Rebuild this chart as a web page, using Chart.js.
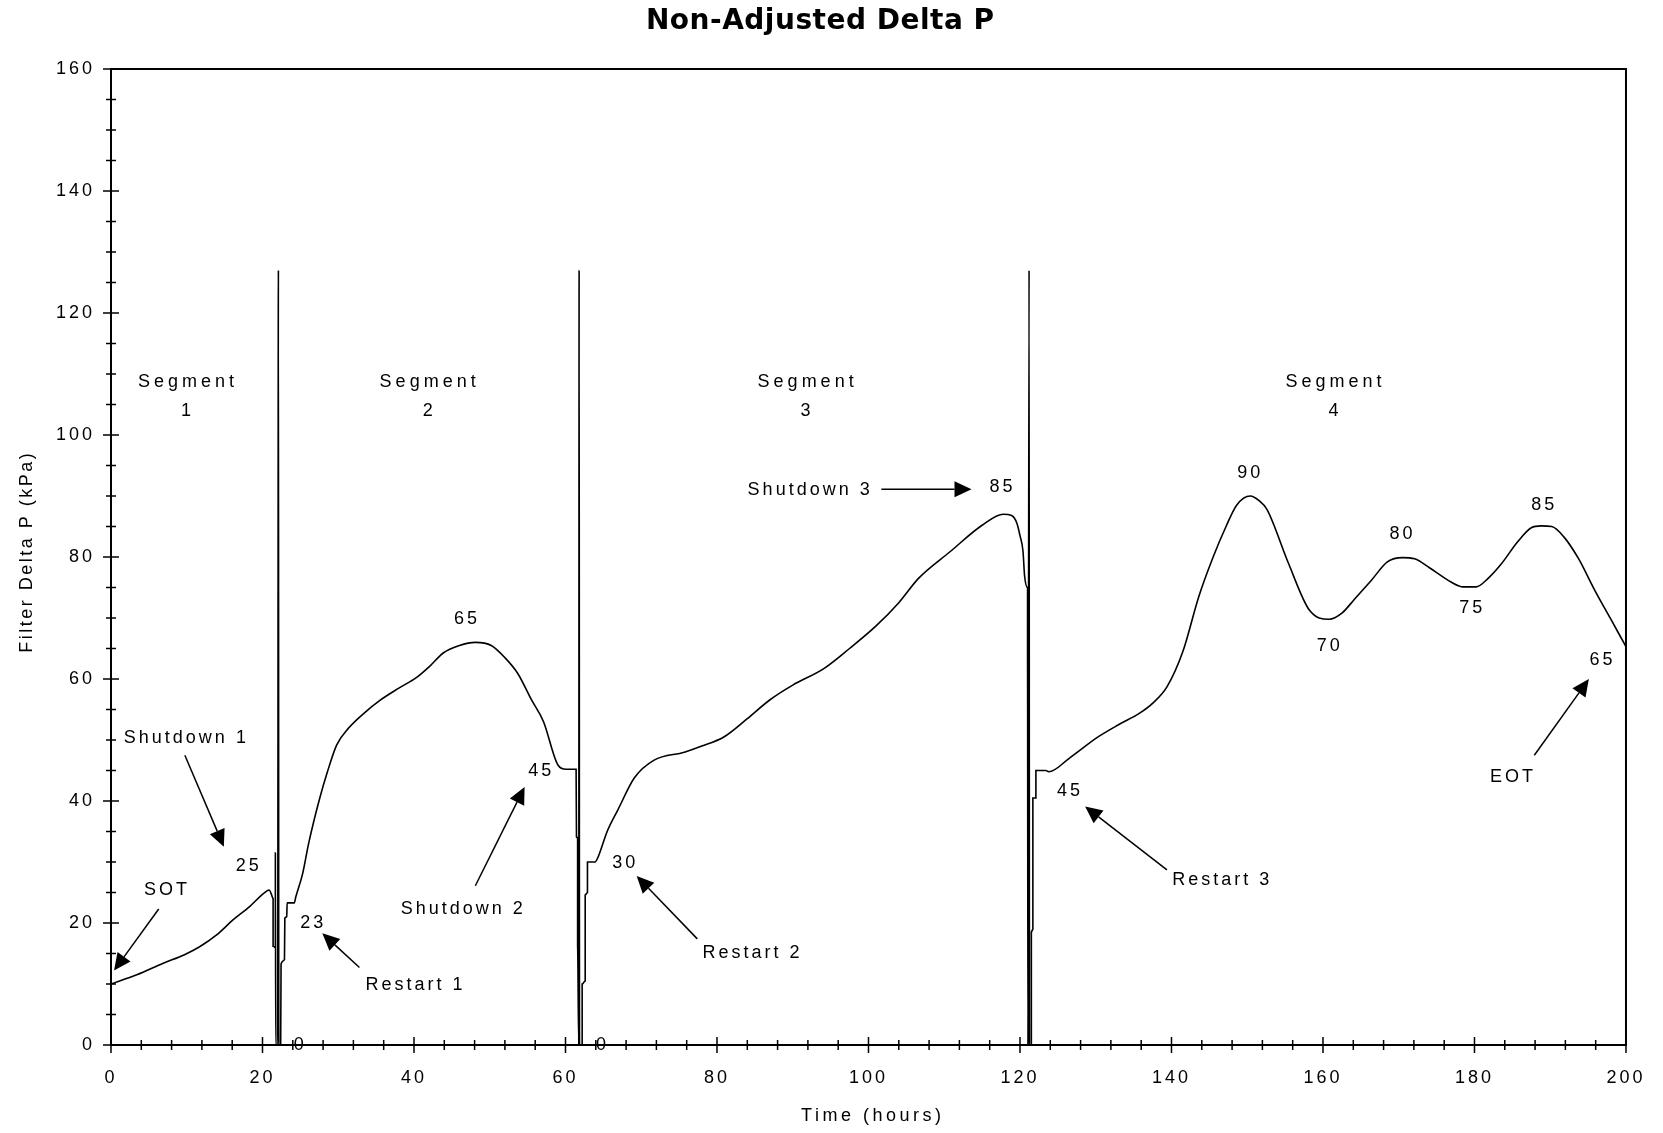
<!DOCTYPE html>
<html>
<head>
<meta charset="utf-8">
<script src="https://cdn.jsdelivr.net/npm/chart.js@4"></script>
<style>body{margin:0;background:#fff}</style>
</head>
<body>
<canvas id="deltaChart" width="1663" height="1133"></canvas>
<script>
// time (hours) and filter delta P (kPa)
let timeHours = [
  0, 3.4, 6.9, 9.7, 11.7, 13.9, 16.1, 18.3, 20.2, 20.9, 21.2, 21.4, 21.4, 21.7, 21.7, 21.75, 22.0, 22.1, 22.15, 22.4,
  22.45, 22.9, 22.95, 23.2, 23.25, 24.2, 24.4, 25.3, 26.1, 27.5, 28.5, 29.8, 31.4, 33.5, 35.5, 38, 40.4, 42, 43.9, 46,
  48.1, 50.2, 52, 53.7, 55.5, 57.1, 59, 60.1, 61.4, 61.45, 61.6, 61.6, 61.75, 61.8, 61.85, 62.2, 62.2, 62.6, 62.6, 62.9,
  62.9, 63.9, 64.3, 65.5, 66.9, 69.1, 71.7, 75.7, 78, 80.9, 84, 87, 90, 94.1, 97.5, 101, 104, 106.6, 110.8, 115,
  117.8, 118.9, 119.6, 120.0, 120.4, 120.6, 121.0, 121.0, 121.05, 121.2, 121.25, 121.5, 121.5, 121.7, 121.7, 122.1, 122.1, 123.4, 123.8, 126.5,
  130.3, 133, 135.8, 137.5, 139.4, 141.5, 143.6, 145.5, 147.2, 148.6, 150.4, 151.6, 152.6, 155.4, 158.2, 160.8, 162.5, 164.1, 166.4,
  168.5, 170.5, 172.1, 174.1, 176.9, 178.5, 180.2, 181.8, 183.5, 185.7, 187.5, 188.8, 190.2, 191.8, 193.7, 195.9, 198, 200
];
let deltaP = [
  10, 11.5, 13.4, 14.8, 16.1, 18, 20.5, 22.7, 24.9, 25.4, 24.6, 24, 16.2, 16, 31.5, 0, 0, 127, 0, 0,
  13.3, 14, 20.8, 21, 23.3, 23.3, 24.3, 28.1, 33.1, 40.2, 44.5, 49.2, 52, 54.5, 56.5, 58.5, 60.3, 62, 64.3, 65.5,
  66, 65.5, 63.5, 60.9, 56.6, 53, 45.9, 45.2, 45.2, 34.1, 34, 16, 0, 127, 0, 0, 10, 10.5, 24.6, 25,
  30, 30, 30.8, 35, 38.5, 43.8, 46.7, 48, 49, 50.5, 53.5, 56.6, 59, 61.7, 65, 68.7, 72.5, 76.5, 80.9, 85.2,
  87, 86.8, 85.5, 83.5, 80.9, 77, 75, 62.5, 0, 127, 0, 0, 18.5, 19, 40.5, 40.5, 45, 45, 44.8, 47,
  50.5, 52.5, 54.4, 56, 58.7, 64.5, 73.5, 80, 85, 88.5, 90, 89.2, 87.8, 79.1, 71.3, 69.8, 70.8, 73, 76.2,
  79.2, 79.9, 79.7, 78.2, 75.9, 75.1, 75.1, 76.5, 78.8, 82.5, 84.8, 85.1, 85, 83.3, 79.8, 74.5, 69.8, 65.3
];

let xMajor = [0, 20, 40, 60, 80, 100, 120, 140, 160, 180, 200];
let yMajor = [0, 20, 40, 60, 80, 100, 120, 140, 160];

// annotations in data units
let segmentNotes = [['1', 9.9], ['2', 41.8], ['3', 91.7], ['4', 161.4]];
let valueNotes = [
  ['25', 18.0, 29.4], ['23', 26.5, 20], ['0', 24.8, 0], ['0', 64.7, 0], ['65', 46.8, 69.9],
  ['45', 56.6, 44.9], ['30', 67.7, 29.9], ['85', 117.5, 91.5], ['45', 126.4, 41.7], ['90', 150.2, 93.7],
  ['70', 160.7, 65.4], ['80', 170.3, 83.7], ['75', 179.5, 71.7], ['85', 189, 88.5], ['65', 196.7, 63.1]
];
let textNotes = [
  ['Shutdown 1', 9.75, 50.4], ['SOT', 7.2, 25.4], ['Shutdown 2', 46.3, 22.3], ['Restart 1', 40, 9.9],
  ['Restart 2', 84.5, 15.1], ['Shutdown 3', 92.1, 91], ['Restart 3', 146.5, 27.1], ['EOT', 184.9, 44]
];
let arrows = [
  [9.75, 47.5, 14.9, 32.5], [6.3, 22.3, 0.4, 12.2], [48.1, 26.1, 54.6, 42.3], [32.8, 12.7, 27.9, 18.3],
  [77.4, 17.4, 69.4, 27.7], [101.7, 91.1, 113.6, 91.1], [139.4, 28.7, 128.6, 39.1], [187.9, 47.5, 195.1, 60]
];

const fam = '"Liberation Sans", Arial, sans-serif';

function putText(ctx, txt, x, y, spacing) {
  ctx.letterSpacing = spacing + 'px';
  let w = ctx.measureText(txt).width - spacing;
  ctx.textAlign = 'left';
  ctx.textBaseline = 'middle';
  ctx.fillText(txt, x - w / 2, y);
}

const decor = {
  id: 'decor',
  beforeDraw(chart) {
    chart.ctx.letterSpacing = '3px';
  },
  afterDraw(chart) {
    const ctx = chart.ctx, a = chart.chartArea, xs = chart.scales.x, ys = chart.scales.y;
    ctx.save();
    ctx.strokeStyle = '#000';
    ctx.fillStyle = '#000';
    ctx.lineWidth = 2;
    ctx.strokeRect(a.left, a.top, a.right - a.left, a.bottom - a.top);

    // tick marks crossing the axes
    ctx.lineWidth = 1.5;
    ctx.beginPath();
    xs.ticks.forEach(t => {
      let px = xs.getPixelForValue(t.value), len = xMajor.includes(t.value) ? 8 : 5;
      ctx.moveTo(px, a.bottom - len); ctx.lineTo(px, a.bottom + len);
    });
    ys.ticks.forEach(t => {
      let py = ys.getPixelForValue(t.value), len = yMajor.includes(t.value) ? 8 : 5;
      ctx.moveTo(a.left - len, py); ctx.lineTo(a.left + len, py);
    });
    ctx.stroke();

    // arrows
    arrows.forEach(ar => {
      let x1 = xs.getPixelForValue(ar[0]), y1 = ys.getPixelForValue(ar[1]);
      let x2 = xs.getPixelForValue(ar[2]), y2 = ys.getPixelForValue(ar[3]);
      let ang = Math.atan2(y2 - y1, x2 - x1), L = 17, W = 8;
      let bx = x2 - L * Math.cos(ang), by = y2 - L * Math.sin(ang);
      ctx.lineWidth = 1.5;
      ctx.beginPath(); ctx.moveTo(x1, y1); ctx.lineTo(bx, by); ctx.stroke();
      ctx.beginPath();
      ctx.moveTo(x2, y2);
      ctx.lineTo(bx + W * Math.sin(ang), by - W * Math.cos(ang));
      ctx.lineTo(bx - W * Math.sin(ang), by + W * Math.cos(ang));
      ctx.closePath(); ctx.fill();
    });

    ctx.font = '18px ' + fam;
    segmentNotes.forEach(s => {
      let px = xs.getPixelForValue(s[1]);
      putText(ctx, 'Segment', px, ys.getPixelForValue(108.7), 4);
      putText(ctx, s[0], px, ys.getPixelForValue(104), 4);
    });
    valueNotes.forEach(v => putText(ctx, v[0], xs.getPixelForValue(v[1]), ys.getPixelForValue(v[2]), 3));
    textNotes.forEach(v => putText(ctx, v[0], xs.getPixelForValue(v[1]), ys.getPixelForValue(v[2]), 3));

    // titles
    putText(ctx, 'Time (hours)', 871, 1116, 3.5);
    ctx.save();
    ctx.translate(27, 553);
    ctx.rotate(-Math.PI / 2);
    putText(ctx, 'Filter Delta P (kPa)', 0, 0, 2.5);
    ctx.restore();
    ctx.font = 'bold 28px "DejaVu Sans", sans-serif';
    putText(ctx, 'Non-Adjusted Delta P', 820, 22, 0.5);
    ctx.restore();
    ctx.letterSpacing = '0px';
  }
};

let deltaChart = new Chart(document.getElementById('deltaChart').getContext('2d'), {
  type: 'line',
  data: {
    datasets: [{
      label: 'Filter Delta P',
      data: timeHours.map((t, i) => ({x: t, y: deltaP[i]})),
      borderColor: '#000',
      borderWidth: 1.6,
      pointRadius: 0,
      cubicInterpolationMode: 'monotone',
      fill: false
    }]
  },
  options: {
    responsive: false,
    devicePixelRatio: 1,
    animation: false,
    layout: {padding: {top: 69, right: 30, left: 0, bottom: 0}},
    plugins: {legend: {display: false}, tooltip: {enabled: false}, title: {display: false}},
    scales: {
      x: {
        type: 'linear', min: 0, max: 200,
        grid: {display: false, drawTicks: false},
        border: {display: false},
        afterFit(s) { s.height = 88; },
        ticks: {
          stepSize: 4, autoSkip: false, maxRotation: 0, padding: 22,
          color: '#000', font: {family: fam, size: 18},
          callback: v => xMajor.includes(v) ? String(v) : ''
        }
      },
      y: {
        min: 0, max: 160,
        grid: {display: false, drawTicks: false},
        border: {display: false},
        afterFit(s) { s.width = 111; },
        ticks: {
          stepSize: 5, autoSkip: false, padding: 16,
          color: '#000', font: {family: fam, size: 18},
          callback: v => yMajor.includes(v) ? String(v) : ''
        }
      }
    }
  },
  plugins: [decor]
});
</script>
</body>
</html>
